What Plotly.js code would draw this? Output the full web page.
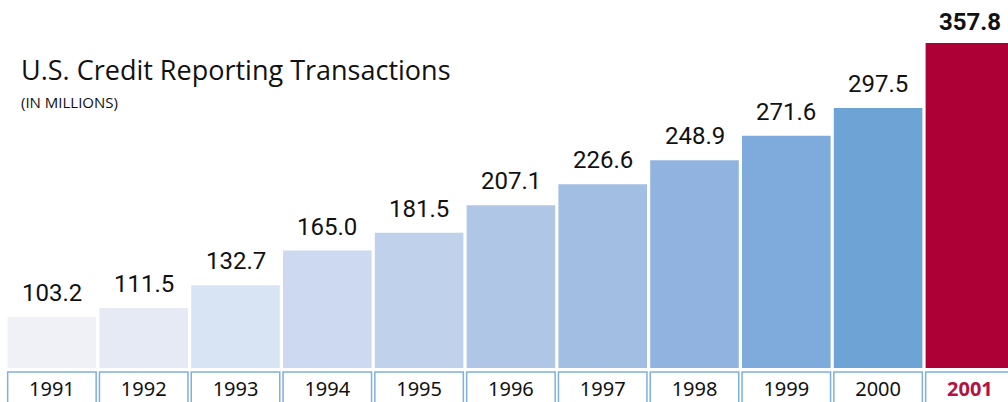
<!DOCTYPE html>
<html>
<head>
<meta charset="utf-8">
<script src="https://cdn.plot.ly/plotly-3.0.1.min.js"></script>
<style>html,body{margin:0;padding:0;background:#fff;}#chart{width:1008px;height:402px;}</style>
</head>
<body>
<div id="chart"></div>
<script>
const years = ['1991','1992','1993','1994','1995','1996','1997','1998','1999','2000','2001'];
const values = [103.2,111.5,132.7,165.0,181.5,207.1,226.6,248.9,271.6,297.5,357.8];
const titleText = 'U.S. Credit Reporting Transactions';
const subtitleText = '(IN MILLIONS)';

const barColors = ['#f0f1f7','#e6eaf5','#d8e3f3','#ccd9f0','#c0d1ec','#b0c6e6','#a2bee3','#90b4df','#7eabdb','#6da3d5','#ad0036'];
const highlight = '#b5123f';
const W = 1008, H = 402, mL = 6, mB = 34;
const plotH = H - mB;
const yMin = 55.8, pxPerUnit = 1.076;
const yMax = yMin + plotH / pxPerUnit;
const last = years.length - 1;

const xIdx = years.map((_, i) => i);

const trace = {
  type: 'bar',
  x: xIdx,
  y: values,
  marker: {color: barColors, line: {width: 0}},
  hoverinfo: 'none'
};

const annotations = values.map((v, i) => ({
  xref: 'x', yref: 'y', x: i, y: v,
  text: i === last ? '<b>' + v.toFixed(1) + '</b>' : v.toFixed(1),
  showarrow: false, xanchor: 'center', yanchor: 'bottom',
  yshift: i === last ? 5 : 8,
  font: {family: 'Roboto', size: 24, color: '#111'}
}));

annotations.push({
  xref: 'paper', yref: 'paper', x: (19 - mL) / (W - mL), y: 1 - 69 / plotH,
  xanchor: 'left', yanchor: 'middle', showarrow: false,
  text: titleText, font: {family: 'Open Sans', size: 27, color: '#111'}
});
annotations.push({
  xref: 'paper', yref: 'paper', x: (19 - mL) / (W - mL), y: 1 - 102 / plotH,
  xanchor: 'left', yanchor: 'middle', showarrow: false,
  text: subtitleText, font: {family: 'Open Sans', size: 15, color: '#111'}
});

const shapes = xIdx.map(i => ({
  type: 'rect', xref: 'x', yref: 'paper',
  x0: i - 0.482, x1: i + 0.482,
  y0: -60 / plotH, y1: -4 / plotH,
  line: {color: '#7eb0e0', width: 1.5},
  fillcolor: 'rgba(0,0,0,0)', layer: 'above'
}));

const tickText = years.map((y, i) => i === last ? '<b><span style="color:' + highlight + '">' + y + '</span></b>' : y);

const slotsVisible = (W - mL) / 91.8;

const layout = {
  width: W, height: H,
  margin: {l: mL, r: 0, t: 0, b: mB, pad: 0},
  paper_bgcolor: '#fff', plot_bgcolor: '#fff',
  showlegend: false,
  bargap: 0.035,
  xaxis: {
    range: [-0.5, -0.5 + slotsVisible],
    tickvals: xIdx, ticktext: tickText,
    tickfont: {family: 'Noto Sans', size: 20, color: '#111'},
    showgrid: false, zeroline: false, showline: false, ticks: '',
    ticklabelstandoff: 7, fixedrange: true
  },
  yaxis: {
    range: [yMin, yMax], visible: false, showgrid: false, zeroline: false, fixedrange: true
  },
  annotations: annotations,
  shapes: shapes
};

Plotly.newPlot('chart', [trace], layout, {displayModeBar: false, staticPlot: true});
</script>
</body>
</html>
